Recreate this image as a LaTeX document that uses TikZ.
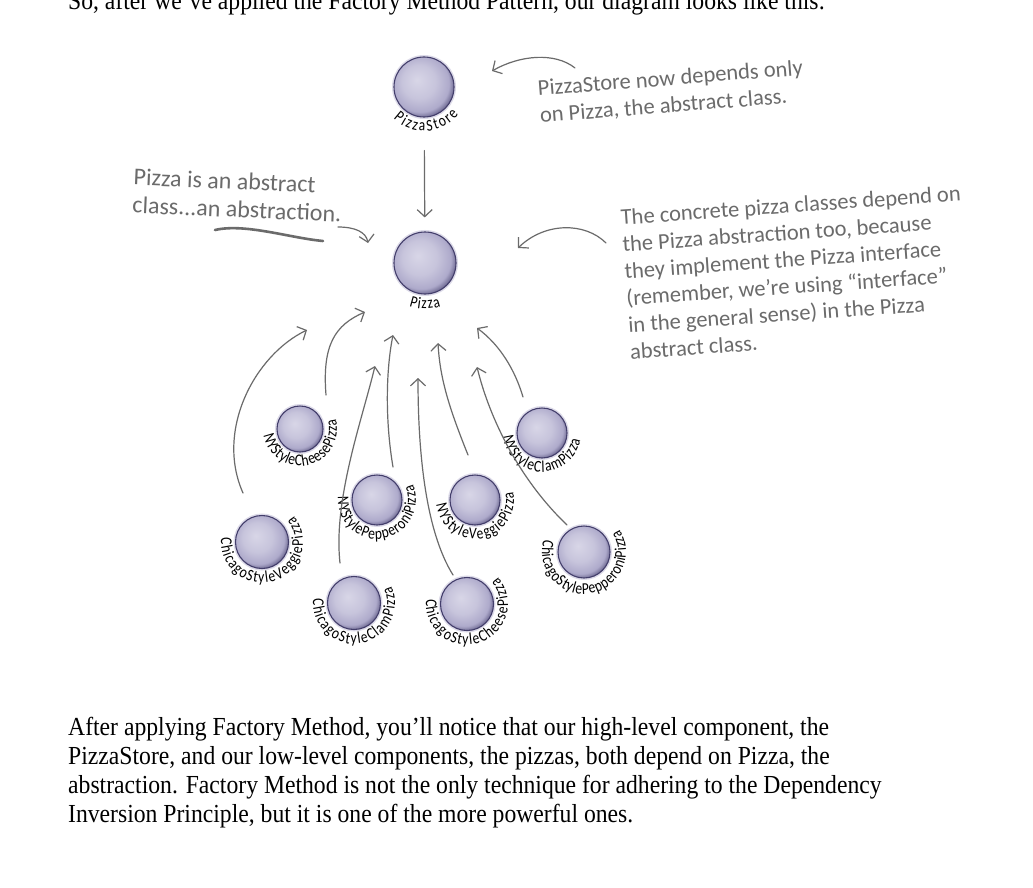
\documentclass[tikz,border=0pt]{standalone}
\usepackage{fontspec}
\usepackage{tikz}
\usetikzlibrary{arrows.meta,decorations.text}

\setmainfont{Liberation Serif}
\newfontfamily\bodyfont[FakeStretch=0.91]{Liberation Serif}
\newfontfamily\handfont{Carlito}
\newfontfamily\orbfont[FakeStretch=0.82]{Carlito}

\definecolor{orblight}{HTML}{D8D6E7}
\definecolor{orbmid}{HTML}{AEAACB}
\definecolor{orbdark}{HTML}{433E6B}
\definecolor{orbhalo}{HTML}{DDDBE9}
\definecolor{pencil}{HTML}{6B6B6B}

\pgfdeclareradialshading{orbshade}{\pgfpoint{-6bp}{6bp}}{color(0bp)=(orblight); color(14bp)=(orblight!60!orbmid); color(24bp)=(orbmid); color(31bp)=(orbdark); color(50bp)=(orbdark)}

\begin{document}
\begin{tikzpicture}[x=1pt,y=1pt,
	orb/.style={circle, draw=orbdark, line width=1.1pt, shading=orbshade,
		minimum size=50pt, inner sep=0pt, preaction={draw=orbhalo, line width=4pt}},
	bigorb/.style={orb, minimum size=60pt},
	dep/.style={draw=pencil, line width=1.2pt, line cap=round,
		-{Straight Barb[length=7pt,width=15pt,line width=1.2pt]}},
	note/.style={font=\handfont\fontsize{22.5}{27}\selectfont, text=pencil,
		align=left, inner sep=0pt, anchor=north west},
	orbname/.style={decorate, decoration={text along path, text align={fit to path},
		text={|\orbfont\fontsize{16.5}{16.5}\selectfont|#1}}}
	]
	\fill[white] (0,0) rectangle (1033,-888);
	\useasboundingbox (0,0) rectangle (1033,-888);

	% page text
	\node (intro) [anchor=base west, inner sep=0pt, font=\bodyfont\fontsize{26}{29}\selectfont]
		at (68,-10) {So, after we’ve applied the Factory Method Pattern, our diagram looks like this:};
	\node (outro) [anchor=north west, inner sep=0pt, align=left, font=\bodyfont\fontsize{26}{29}\selectfont]
		at (68,-717) {After applying Factory Method, you’ll notice that our high-level component, the\\
		PizzaStore, and our low-level components, the pizzas, both depend on Pizza, the\\
		abstraction. Factory Method is not the only technique for adhering to the Dependency\\
		Inversion Principle, but it is one of the more powerful ones.};

	% classes
	\node (store) [bigorb] at (424,-87) {};
	\node (pizza) [bigorb, minimum size=62pt] at (425,-263) {};
	\node (nych) [orb, minimum size=46pt] at (300,-429) {};
	\node (nyp) [orb] at (377,-500) {};
	\node (nyv) [orb] at (475,-500) {};
	\node (nycl) [orb] at (542,-433) {};
	\node (chv) [orb, minimum size=53pt] at (262,-542) {};
	\node (chcl) [orb, minimum size=53pt] at (354,-603) {};
	\node (chch) [orb, minimum size=53pt] at (467,-604) {};
	\node (chp) [orb, minimum size=52pt] at (584,-552) {};

	% class names round the orbs
	\path[orbname={PizzaStore}] ([shift={(226:44)}]store.center) arc[start angle=226, end angle=322, radius=44];
	\path[orbname={Pizza}] ([shift={(250:46)}]pizza.center) arc[start angle=250, end angle=290, radius=46];
	\path[orbname={NYStyleCheesePizza}] ([shift={(190:37)}]nych.center) arc[start angle=190, end angle=375, radius=37];
	\path[orbname={NYStylePepperoniPizza}] ([shift={(175:39)}]nyp.center) arc[start angle=175, end angle=383, radius=39];
	\path[orbname={NYStyleVeggiePizza}] ([shift={(187:39)}]nyv.center) arc[start angle=187, end angle=372, radius=39];
	\path[orbname={NYStyleClamPizza}] ([shift={(185:39)}]nycl.center) arc[start angle=185, end angle=350, radius=39];
	\path[orbname={ChicagoStyleVeggiePizza}] ([shift={(174:41)}]chv.center) arc[start angle=174, end angle=399, radius=41];
	\path[orbname={ChicagoStyleClamPizza}] ([shift={(174:41)}]chcl.center) arc[start angle=174, end angle=384, radius=41];
	\path[orbname={ChicagoStyleCheesePizza}] ([shift={(173:41)}]chch.center) arc[start angle=173, end angle=401, radius=41];
	\path[orbname={ChicagoStylePepperoniPizza}] ([shift={(163:42)}]chp.center) arc[start angle=163, end angle=392, radius=42];

	% ends of the hand drawn arrows
	\coordinate (chvT) at (243,-493);  \coordinate (chvH) at (307,-330);
	\coordinate (nychT) at (326,-395); \coordinate (nychH) at (365,-312);
	\coordinate (chclT) at (340,-563); \coordinate (chclH) at (375,-366);
	\coordinate (nypT) at (393,-467);  \coordinate (nypH) at (393,-335);
	\coordinate (chchT) at (453,-575); \coordinate (chchH) at (418,-378);
	\coordinate (nyvT) at (468,-455);  \coordinate (nyvH) at (438,-343);
	\coordinate (chpT) at (567,-525);  \coordinate (chpH) at (477,-367);
	\coordinate (nyclT) at (523,-397); \coordinate (nyclH) at (477,-328);

	\draw[dep] (chvT) .. controls (215,-430) and (255,-355) .. (chvH);
	\draw[dep] (nychT) .. controls (322,-345) and (335,-325) .. (nychH);
	\draw[dep] (chclT) .. controls (333,-500) and (362,-420) .. (chclH);
	\draw[dep] (nypT) .. controls (385,-420) and (386,-370) .. (nypH);
	\draw[dep] (chchT) .. controls (425,-530) and (418,-450) .. (chchH);
	\draw[dep] (nyvT) .. controls (450,-410) and (440,-380) .. (nyvH);
	\draw[dep] (chpT) .. controls (520,-480) and (490,-420) .. (chpH);
	\draw[dep] (nyclT) .. controls (515,-370) and (500,-345) .. (nyclH);
	\draw[dep, shorten <=33pt, shorten >=14pt] (store) -- (pizza);

	% notes
	\node (storenote) [note, rotate=4.5] at (537,-80) {PizzaStore now depends only\\on Pizza, the abstract class.};
	\node (abstractnote) [note, rotate=-2.5, font=\handfont\fontsize{24}{28}\selectfont] at (134,-168) {Pizza is an abstract\\class...an abstraction.};
	\node (concretenote) [note, rotate=4] at (620,-209) {The concrete pizza classes depend on\\the Pizza abstraction too, because\\they implement the Pizza interface\\(remember, we’re using “interface”\\in the general sense) in the Pizza\\abstract class.};

	\coordinate (storenoteT) at (575,-68); \coordinate (storenoteH) at (492,-71);
	\coordinate (abstractnoteT) at (338,-227); \coordinate (abstractnoteH) at (368,-243);
	\coordinate (concretenoteT) at (606,-243); \coordinate (concretenoteH) at (518,-248);
	\draw[dep] (storenoteT) .. controls (555,-52) and (520,-55) .. (storenoteH);
	\draw[dep] (abstractnoteT) .. controls (355,-227) and (366,-232) .. (abstractnoteH);
	\draw[dep] (concretenoteT) .. controls (585,-222) and (545,-222) .. (concretenoteH);
	% underline
	\draw[pencil, line width=2.6pt, line cap=round] (215,-230) .. controls (245,-223) and (290,-238) .. (323,-241);
\end{tikzpicture}
\end{document}
